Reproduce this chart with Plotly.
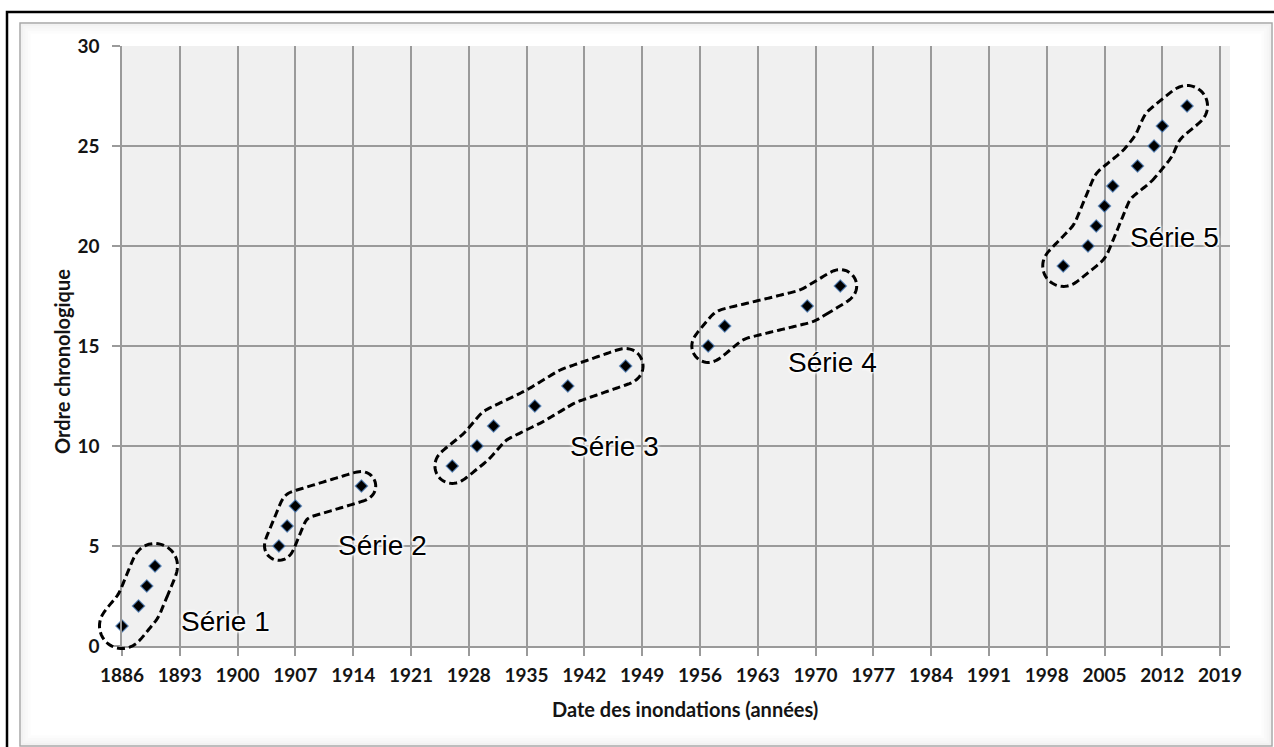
import numpy as np
import plotly.graph_objects as go

# ---- data: flood dates (years) and their chronological rank, grouped by series ----
series_names = ["Série 1", "Série 2", "Série 3", "Série 4", "Série 5"]
years_s1 = [1886, 1888, 1889, 1890]
rank_s1 = [1, 2, 3, 4]
years_s2 = [1905, 1906, 1907, 1915]
rank_s2 = [5, 6, 7, 8]
years_s3 = [1926, 1929, 1931, 1936, 1940, 1947]
rank_s3 = [9, 10, 11, 12, 13, 14]
years_s4 = [1957, 1959, 1969, 1973]
rank_s4 = [15, 16, 17, 18]
years_s5 = [2000, 2003, 2004, 2005, 2006, 2009, 2011, 2012, 2015]
rank_s5 = [19, 20, 21, 22, 23, 24, 25, 26, 27]

x_ticks = [1886, 1893, 1900, 1907, 1914, 1921, 1928, 1935, 1942, 1949, 1956,
           1963, 1970, 1977, 1984, 1991, 1998, 2005, 2012, 2019]
y_ticks = [0, 5, 10, 15, 20, 25, 30]

# label anchor for each series group (year, rank)
label_x = [1898.5, 1917.6, 1945.7, 1972.1, 2013.5]
label_y = [1.25, 5.05, 10.0, 14.2, 20.45]

# ---- layout geometry ----
W, H = 1274, 747
M_L, M_R, M_T, M_B = 122, 44, 46, 101
PLOT_W = W - M_L - M_R
PLOT_H = H - M_T - M_B
X_RANGE = [1886, 2020.2]
Y_RANGE = [0, 30]
PX_PER_YEAR = PLOT_W / (X_RANGE[1] - X_RANGE[0])
PX_PER_UNIT = PLOT_H / (Y_RANGE[1] - Y_RANGE[0])

# padding (in px) of the dashed enclosure drawn around each group
pad_px = [23, 15, 18, 17, 21]

GRID = "#9a9a9a"
TXT = "#141414"


def paper_x(px):
    return (px - M_L) / PLOT_W


def paper_y(py):
    return (H - M_B - py) / PLOT_H


def polyline_distance(X, Y, px, py):
    """Distance (screen px) from points (X, Y) to the polyline through (px, py)."""
    d = np.full(X.shape, np.inf)
    for i in range(len(px) - 1):
        ax, ay, bx, by = px[i], py[i], px[i + 1], py[i + 1]
        vx, vy = bx - ax, by - ay
        L2 = vx * vx + vy * vy
        t = np.clip(((X - ax) * vx + (Y - ay) * vy) / L2, 0, 1)
        d = np.minimum(d, np.hypot(X - (ax + t * vx), Y - (ay + t * vy)))
    return d


def enclosure_path(xs, ys, pad):
    """Smooth closed outline at distance `pad` px around a group, as a paper-ref SVG path."""
    px = (np.asarray(xs, float) - X_RANGE[0]) * PX_PER_YEAR
    py = (np.asarray(ys, float) - Y_RANGE[0]) * PX_PER_UNIT
    # centre = midpoint of the polyline by arc length
    seg = np.hypot(np.diff(px), np.diff(py))
    cum = np.concatenate([[0], np.cumsum(seg)])
    half = cum[-1] / 2
    k = min(np.searchsorted(cum, half) - 1, len(seg) - 1)
    k = max(k, 0)
    f = (half - cum[k]) / seg[k]
    cx, cy = px[k] + f * (px[k + 1] - px[k]), py[k] + f * (py[k + 1] - py[k])
    # farthest point along each ray still within the padding distance
    ang = np.linspace(0, 2 * np.pi, 720, endpoint=False)
    t = np.arange(0, cum[-1] / 2 + pad * 2 + 20, 0.4)
    RX = cx + np.outer(np.cos(ang), t)
    RY = cy + np.outer(np.sin(ang), t)
    inside = polyline_distance(RX, RY, px, py) <= pad
    idx = inside.shape[1] - 1 - np.argmax(inside[:, ::-1], axis=1)
    r = t[idx]
    bx, by = cx + r * np.cos(ang), cy + r * np.sin(ang)
    # resample by arc length and smooth
    bx2, by2 = np.append(bx, bx[0]), np.append(by, by[0])
    s = np.concatenate([[0], np.cumsum(np.hypot(np.diff(bx2), np.diff(by2)))])
    n = int(s[-1])
    ss = np.linspace(0, s[-1], n, endpoint=False)
    ux, uy = np.interp(ss, s, bx2), np.interp(ss, s, by2)
    sig = 4.0
    kern = np.exp(-0.5 * (np.arange(-12, 13) / sig) ** 2)
    kern /= kern.sum()
    ux = np.convolve(np.concatenate([ux[-12:], ux, ux[:12]]), kern, mode="valid")
    uy = np.convolve(np.concatenate([uy[-12:], uy, uy[:12]]), kern, mode="valid")
    ux, uy = ux[::2], uy[::2]
    fx, fy = ux / PLOT_W, uy / PLOT_H
    pts = " L ".join(f"{a:.5f},{b:.5f}" for a, b in zip(fx, fy))
    return f"M {pts} Z"


groups = [
    (years_s1, rank_s1),
    (years_s2, rank_s2),
    (years_s3, rank_s3),
    (years_s4, rank_s4),
    (years_s5, rank_s5),
]

fig = go.Figure()

# flood points
all_years = years_s1 + years_s2 + years_s3 + years_s4 + years_s5
all_rank = rank_s1 + rank_s2 + rank_s3 + rank_s4 + rank_s5
fig.add_trace(go.Scatter(
    x=all_years, y=all_rank, mode="markers", cliponaxis=False,
    marker=dict(symbol="diamond", size=9.5, color="#000000",
                line=dict(color="rgba(79,129,189,0.75)", width=1.2)),
    showlegend=False, hoverinfo="x+y",
))

halo = ("0px 0px 2px white, 0px 0px 2px white, 0px 0px 3px white, "
        "0px 0px 3px white, 0px 0px 4px white, 0px 0px 4px white")
annotations = []
for name, lx, ly in zip(series_names, label_x, label_y):
    annotations.append(dict(
        x=lx, y=ly, xref="x", yref="y", text=name, showarrow=False,
        xanchor="center", yanchor="middle",
        font=dict(family="Liberation Sans, Arial, sans-serif", size=28,
                  color="black", shadow=halo),
    ))

# axis titles
annotations.append(dict(
    x=paper_x(685), y=paper_y(709), xref="paper", yref="paper",
    text="Date des inondations (années)", showarrow=False,
    xanchor="center", yanchor="middle",
    font=dict(family="Lato, sans-serif", size=20, color=TXT, weight="bold"),
))
annotations.append(dict(
    x=paper_x(62), y=paper_y(362), xref="paper", yref="paper",
    text="Ordre chronologique", showarrow=False, textangle=-90,
    xanchor="center", yanchor="middle",
    font=dict(family="Lato, sans-serif", size=20, color=TXT, weight="bold"),
))

# outer frame, inner chart border with a soft inner shadow
shapes = [
    dict(type="rect", xref="paper", yref="paper", layer="below",
         x0=paper_x(7), x1=paper_x(1300), y0=paper_y(12), y1=paper_y(780),
         line=dict(color="black", width=2.5), fillcolor="rgba(0,0,0,0)"),
]
for k, a in enumerate([0.05, 0.035, 0.022, 0.012]):
    o = 2 + 2.5 * k
    shapes.append(dict(
        type="rect", xref="paper", yref="paper", layer="below",
        x0=paper_x(20 + o), x1=paper_x(1272 - o), y0=paper_y(23 + o), y1=paper_y(746 - o),
        line=dict(color=f"rgba(0,0,0,{a})", width=2.5), fillcolor="rgba(0,0,0,0)"))
shapes.append(dict(
    type="rect", xref="paper", yref="paper", layer="below",
    x0=paper_x(20), x1=paper_x(1272), y0=paper_y(23), y1=paper_y(746),
    line=dict(color="#a8a8a8", width=1.5), fillcolor="rgba(0,0,0,0)"))

# dashed enclosures around each group
for (xs, ys), pad in zip(groups, pad_px):
    shapes.append(dict(
        type="path", xref="paper", yref="paper", layer="above",
        path=enclosure_path(xs, ys, pad),
        line=dict(color="black", width=3, dash="8px,4px"),
        fillcolor="rgba(0,0,0,0)",
    ))

tick_font = dict(family="Lato, sans-serif", size=19, color=TXT, weight="bold")

fig.update_layout(
    width=W, height=H,
    margin=dict(l=M_L, r=M_R, t=M_T, b=M_B, pad=0),
    paper_bgcolor="white", plot_bgcolor="#f0f0f0",
    showlegend=False,
    xaxis=dict(
        range=X_RANGE, tickmode="array", tickvals=x_ticks,
        ticktext=[str(v) for v in x_ticks],
        showgrid=True, gridcolor=GRID, gridwidth=1.5,
        showline=True, linecolor=GRID, linewidth=1.5,
        ticks="outside", ticklen=8, tickwidth=1.5, tickcolor=GRID,
        tickfont=tick_font, ticklabelstandoff=3, zeroline=False,
    ),
    yaxis=dict(
        range=Y_RANGE, tickmode="array", tickvals=y_ticks,
        showgrid=True, gridcolor=GRID, gridwidth=1.5,
        showline=True, linecolor=GRID, linewidth=1.5,
        ticks="outside", ticklen=8, tickwidth=1.5, tickcolor=GRID,
        tickfont=tick_font, ticklabelstandoff=9, zeroline=False,
    ),
    annotations=annotations,
    shapes=shapes,
)

fig.write_html("out.html")
